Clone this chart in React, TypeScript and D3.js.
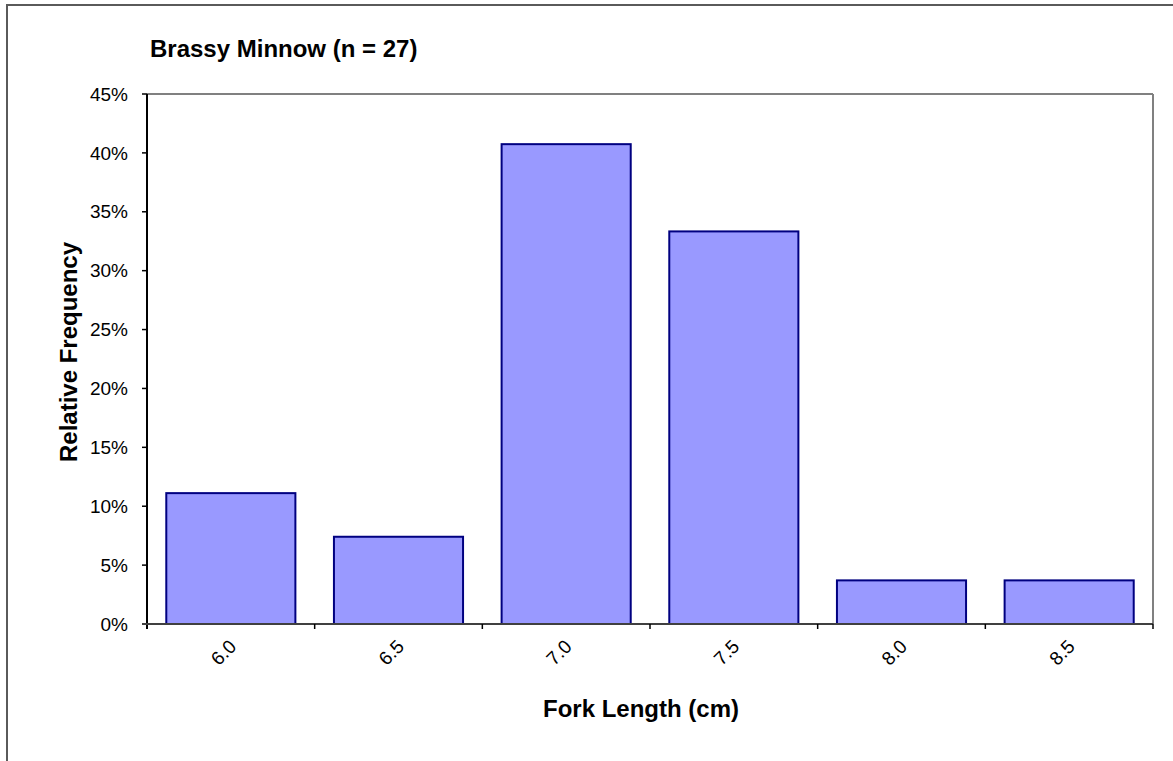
import React from "react";
import * as d3 from "d3";

const categories = ["6.0", "6.5", "7.0", "7.5", "8.0", "8.5"];
const values = [3 / 27, 2 / 27, 11 / 27, 9 / 27, 1 / 27, 1 / 27];
const yTicks = [0, 0.05, 0.1, 0.15, 0.2, 0.25, 0.3, 0.35, 0.4, 0.45];
const title = "Brassy Minnow (n = 27)";
const xTitle = "Fork Length (cm)";
const yTitle = "Relative Frequency";

export default function App() {
  const W = 1173, H = 761;
  const left = 147, right = 1153, top = 94, bottom = 624;
  const x = d3.scaleBand<string>().domain(categories).range([left, right]).paddingInner(0.23).paddingOuter(0.115);
  const xEdges = d3.scaleBand<string>().domain(categories).range([left, right]);
  const y = d3.scaleLinear().domain([0, 0.45]).range([bottom, top]);
  const font = "Liberation Sans, Arial, sans-serif";
  const fmt = d3.format(".0%");
  return (
    <svg width={W} height={H} style={{ position: "absolute", left: 0, top: 0, background: "#fff" }} fontFamily={font}>
      <rect x={7} y={5} width={1300} height={900} fill="#fff" stroke="#5a5a5a" strokeWidth={2} />
      <text x={150} y={57} fontSize={24} fontWeight="bold">{title}</text>
      {/* plot border top & right */}
      <line x1={left} x2={right} y1={top} y2={top} stroke="#808080" strokeWidth={2} />
      <line x1={right} x2={right} y1={top} y2={bottom} stroke="#808080" strokeWidth={2} />
      {values.map((v, i) => (
        <rect key={i} x={x(categories[i])!} y={y(v)} width={x.bandwidth()} height={bottom - y(v)}
          fill="#9999FF" stroke="#000080" strokeWidth={2} />
      ))}
      {/* y axis */}
      <line x1={left} x2={left} y1={top} y2={bottom + 5} stroke="#000" strokeWidth={2} />
      {yTicks.map((t, i) => (
        <g key={i}>
          <line x1={left - 5} x2={left} y1={y(t)} y2={y(t)} stroke="#000" strokeWidth={1.5} />
          <text x={128} y={y(t)} dy="0.35em" textAnchor="end" fontSize={19}>{fmt(t)}</text>
        </g>
      ))}
      {/* x axis */}
      <line x1={left - 5} x2={right} y1={bottom} y2={bottom} stroke="#404040" strokeWidth={2} />
      {categories.map((c, i) => (
        <line key={"t" + i} x1={xEdges(c)! + xEdges.bandwidth()} x2={xEdges(c)! + xEdges.bandwidth()} y1={bottom} y2={bottom + 5} stroke="#000" strokeWidth={1.5} />
      ))}
      {categories.map((c, i) => {
        const cx = xEdges(c)! + xEdges.bandwidth() / 2;
        return (
          <text key={"l" + i} transform={`translate(${cx + 2},${bottom + 19}) rotate(-45)`} textAnchor="end" dy="0.35em" fontSize={19}>{c}</text>
        );
      })}
      <text x={(left + right) / 2 - 9} y={717} textAnchor="middle" fontSize={24} fontWeight="bold">{xTitle}</text>
      <text transform={`translate(77,352) rotate(-90)`} textAnchor="middle" fontSize={24} fontWeight="bold">{yTitle}</text>
    </svg>
  );
}
